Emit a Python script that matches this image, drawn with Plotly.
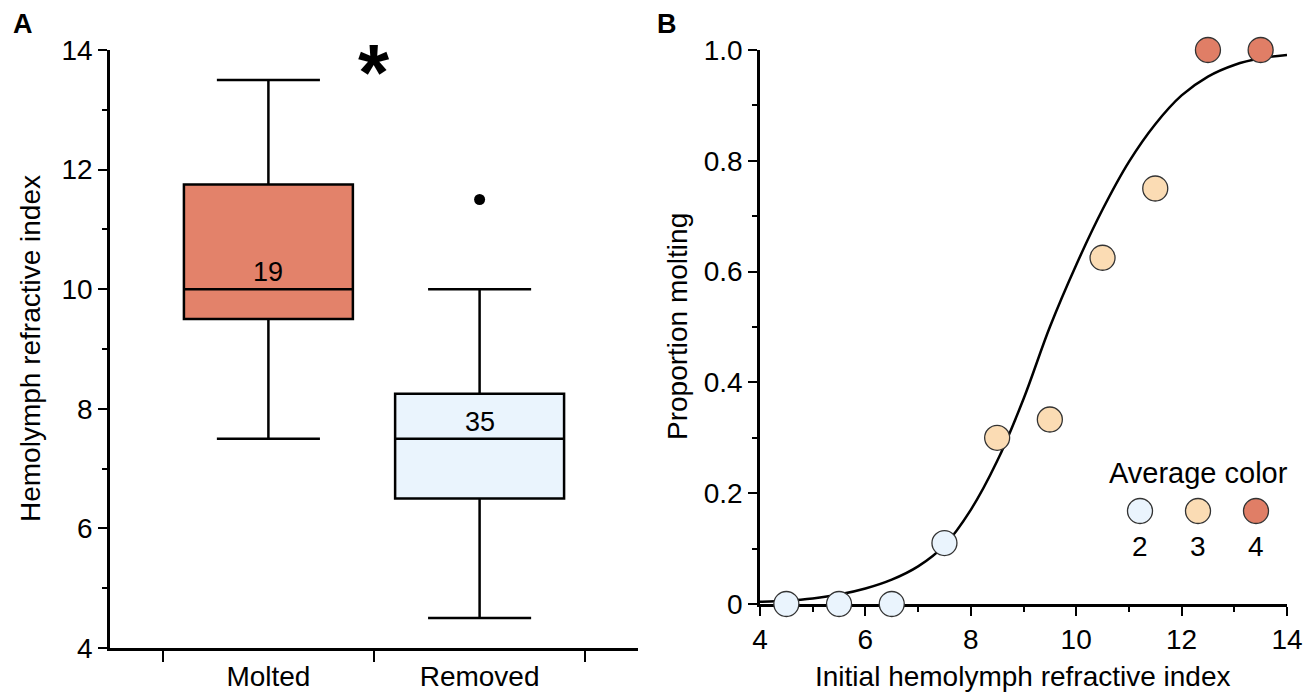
import plotly.graph_objects as go

# ---------------- Data ----------------
# Panel A: box plot summary
groups = ["Molted", "Removed"]
group_pos = [0, 1]
q1 = [9.5, 6.5]
median = [10.0, 7.5]
q3 = [11.75, 8.25]
lower_whisker = [7.5, 4.5]
upper_whisker = [13.5, 10.0]
n_counts = ["19", "35"]
box_colors = ["#E3826A", "#EAF4FD"]
outlier_group = [1]
outlier_value = [11.5]

# Panel B: proportion molting
ri_bins = [4.5, 5.5, 6.5, 7.5, 8.5, 9.5, 10.5, 11.5, 12.5, 13.5]
prop_molting = [0.0, 0.0, 0.0, 0.11, 0.30, 0.333, 0.625, 0.75, 1.0, 1.0]
avg_color = [2, 2, 2, 2, 3, 3, 3, 3, 4, 4]
color_map = {2: "#EAF4FD", 3: "#FBDCB4", 4: "#E07E66"}

# fitted curve
curve_x = [4.0, 4.5, 5.0, 5.5, 6.0, 6.5, 7.0, 7.5, 8.0, 8.5, 9.0, 9.5, 10.0,
           10.5, 11.0, 11.5, 12.0, 12.5, 13.0, 13.5, 14.0]
curve_y = [0.004, 0.006, 0.010, 0.017, 0.028, 0.044, 0.068, 0.106, 0.170, 0.258,
           0.370, 0.500, 0.612, 0.712, 0.798, 0.866, 0.918, 0.952, 0.973, 0.985, 0.991]

legend_levels = [2, 3, 4]

FONT = "Liberation Sans, Arial, Helvetica, sans-serif"
# the page body has an 8px margin; the figure fills the rest of the 1314x692 window
OFF = 8
W, H = 1314 - OFF, 692 - OFF


def X(px):
    return (px - OFF) / W


def Y(py):
    return 1 - (py - OFF) / H


fig = go.Figure()

# ---------------- Panel A ----------------
for i in range(len(groups)):
    fig.add_trace(go.Box(
        x=[group_pos[i]], q1=[q1[i]], median=[median[i]], q3=[q3[i]],
        lowerfence=[lower_whisker[i]], upperfence=[upper_whisker[i]],
        fillcolor=box_colors[i], line=dict(color="black", width=2.5),
        width=0.8, whiskerwidth=0.61, boxpoints=False, showlegend=False,
        hoverinfo="skip", xaxis="x", yaxis="y"))

fig.add_trace(go.Scatter(
    x=outlier_group, y=outlier_value, mode="markers",
    marker=dict(color="black", size=11), showlegend=False,
    xaxis="x", yaxis="y", cliponaxis=False))

for i in range(len(groups)):
    fig.add_annotation(x=group_pos[i], y=median[i], xref="x", yref="y",
                       text=n_counts[i], showarrow=False, xanchor="center",
                       yanchor="bottom", yshift=0,
                       font=dict(size=27, color="black", family=FONT))

fig.add_annotation(x=0.5, y=13.62, xref="x", yref="y", text="<b>*</b>",
                   showarrow=False, xanchor="center", yanchor="middle",
                   font=dict(size=80, color="black", family=FONT))

# ---------------- Panel B ----------------
fig.add_trace(go.Scatter(
    x=curve_x, y=curve_y, mode="lines", line=dict(color="black", width=2.5, shape="spline"),
    showlegend=False, hoverinfo="skip", xaxis="x2", yaxis="y2", cliponaxis=False))

fig.add_trace(go.Scatter(
    x=ri_bins, y=prop_molting, mode="markers",
    marker=dict(size=25, color=[color_map[c] for c in avg_color],
                line=dict(color="#333333", width=1.3)),
    showlegend=False, xaxis="x2", yaxis="y2", cliponaxis=False))

# custom legend "Average color"
leg_x_px = [1140, 1198, 1256]
for lvl, px in zip(legend_levels, leg_x_px):
    fig.add_shape(type="circle", xref="paper", yref="paper",
                  xsizemode="pixel", ysizemode="pixel",
                  xanchor=X(px), yanchor=Y(511),
                  x0=-12.5, x1=12.5, y0=-12.5, y1=12.5,
                  fillcolor=color_map[lvl], line=dict(color="#333333", width=1.3))
    fig.add_annotation(x=X(px), y=Y(546), xref="paper", yref="paper",
                       text=str(lvl), showarrow=False, xanchor="center", yanchor="middle",
                       font=dict(size=28, color="black", family=FONT))
fig.add_annotation(x=X(1198), y=Y(473), xref="paper", yref="paper",
                   text="Average color", showarrow=False, xanchor="center", yanchor="middle",
                   font=dict(size=29, color="black", family=FONT))

# axis titles and panel letters
fig.add_annotation(x=X(30), y=Y(349), xref="paper", yref="paper",
                   text="Hemolymph refractive index", textangle=-90, showarrow=False,
                   xanchor="center", yanchor="middle",
                   font=dict(size=28, color="black", family=FONT))
fig.add_annotation(x=X(678), y=Y(327), xref="paper", yref="paper",
                   text="Proportion molting", textangle=-90, showarrow=False,
                   xanchor="center", yanchor="middle",
                   font=dict(size=28, color="black", family=FONT))
fig.add_annotation(x=X(1023), y=Y(676), xref="paper", yref="paper",
                   text="Initial hemolymph refractive index", showarrow=False,
                   xanchor="center", yanchor="middle",
                   font=dict(size=28, color="black", family=FONT))
fig.add_annotation(x=X(11), y=Y(24), xref="paper", yref="paper", xanchor="left",
                   yanchor="middle", text="<b>A</b>", showarrow=False,
                   font=dict(size=27, color="black", family=FONT))
fig.add_annotation(x=X(655), y=Y(24), xref="paper", yref="paper", xanchor="left",
                   yanchor="middle", text="<b>B</b>", showarrow=False,
                   font=dict(size=27, color="black", family=FONT))

axis_common = dict(showline=True, linecolor="black", linewidth=2.5, showgrid=False,
                   zeroline=False, ticks="outside", tickcolor="black", tickwidth=2,
                   ticklen=9, automargin=False,
                   tickfont=dict(size=28, color="black", family=FONT))

fig.update_layout(
    template="none",
    width=W, height=H, margin=dict(l=0, r=0, t=0, b=0, autoexpand=False),
    paper_bgcolor="white", plot_bgcolor="white", showlegend=False,
    font=dict(family=FONT, color="black"),
    xaxis=dict(domain=[X(110), X(638)], range=[-0.75, 1.75], anchor="y",
               tickmode="array", tickvals=group_pos, ticktext=groups,
               **{k: v for k, v in axis_common.items() if k not in ("ticks", "ticklen")},
               ticks="", ticklabelstandoff=2,
               minor=dict(tickmode="array", tickvals=[-0.5, 0.5, 1.5], ticks="outside",
                          ticklen=11, tickwidth=2, tickcolor="black")),
    yaxis=dict(domain=[Y(648), Y(50)], range=[4, 14], anchor="x",
               tickmode="linear", tick0=4, dtick=2,
               minor=dict(dtick=1, ticks="outside", ticklen=5, tickwidth=2, tickcolor="black"),
               **axis_common),
    xaxis2=dict(domain=[X(760), X(1287)], range=[4, 14], anchor="y2",
                tickmode="linear", tick0=4, dtick=2, layer="below traces",
                ticklabelstandoff=0,
                minor=dict(dtick=1, ticks="outside", ticklen=5, tickwidth=2, tickcolor="black"),
                **axis_common),
    yaxis2=dict(domain=[Y(604), Y(50)], range=[0, 1], anchor="x2",
                tickmode="array", tickvals=[0, 0.2, 0.4, 0.6, 0.8, 1.0],
                ticktext=["0", "0.2", "0.4", "0.6", "0.8", "1.0"], layer="below traces",
                minor=dict(tickmode="array", tickvals=[0.1, 0.3, 0.5, 0.7, 0.9],
                           ticks="outside", ticklen=5, tickwidth=2, tickcolor="black"),
                **axis_common),
)

fig.write_html("out.html")
